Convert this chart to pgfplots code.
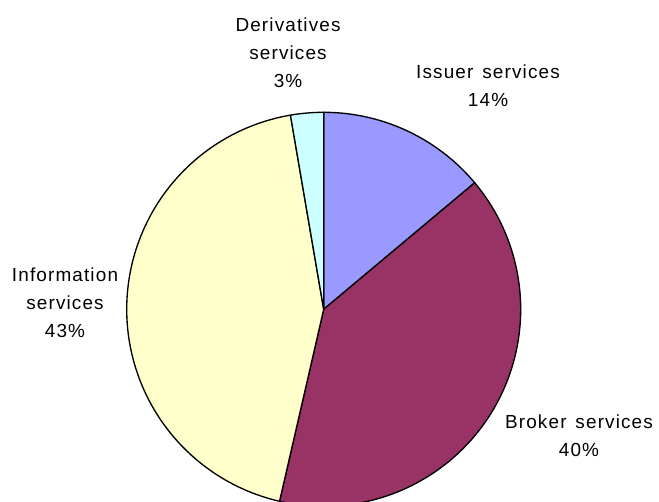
\documentclass[border=0pt]{standalone}
\usepackage{fontspec}
\setmainfont{Liberation Sans}[LetterSpace=6, WordSpace=1.4]
\usepackage{pgfplots}
\pgfplotsset{compat=1.18}
\definecolor{issuer}{HTML}{9999FF}
\definecolor{broker}{HTML}{993366}
\definecolor{info}{HTML}{FFFFCC}
\definecolor{deriv}{HTML}{CCFFFF}
% shares (percent), clockwise from 12 o'clock
\pgfmathsetmacro\pIssuer{13.9}
\pgfmathsetmacro\pBroker{39.7}
\pgfmathsetmacro\pInfo{43.7}
\pgfmathsetmacro\pDeriv{2.7}
\pgfmathsetmacro\aA{90}
\pgfmathsetmacro\aB{\aA-3.6*\pIssuer}
\pgfmathsetmacro\aC{\aB-3.6*\pBroker}
\pgfmathsetmacro\aD{\aC-3.6*\pInfo}
\pgfmathsetmacro\aE{\aD-3.6*\pDeriv}
\def\cx{323.7}
\def\cy{191.7}
\def\rr{197}
\begin{document}
\begin{tikzpicture}
\begin{axis}[hide axis, scale only axis, width=494.25pt, height=375.75pt,
  xmin=0, xmax=659, ymin=0, ymax=501, clip=true]
\addplot[draw=black, line width=1pt, line join=round, fill=issuer, domain=\aA:\aB, samples=80, variable=t]
  ({\cx+\rr*cos(t)},{\cy+\rr*sin(t)}) -- (axis cs:\cx,\cy) -- cycle;
\addplot[draw=black, line width=1pt, line join=round, fill=broker, domain=\aB:\aC, samples=120, variable=t]
  ({\cx+\rr*cos(t)},{\cy+\rr*sin(t)}) -- (axis cs:\cx,\cy) -- cycle;
\addplot[draw=black, line width=1pt, line join=round, fill=info, domain=\aC:\aD, samples=120, variable=t]
  ({\cx+\rr*cos(t)},{\cy+\rr*sin(t)}) -- (axis cs:\cx,\cy) -- cycle;
\addplot[draw=black, line width=1pt, line join=round, fill=deriv, domain=\aD:\aE, samples=20, variable=t]
  ({\cx+\rr*cos(t)},{\cy+\rr*sin(t)}) -- (axis cs:\cx,\cy) -- cycle;
\end{axis}
\begin{axis}[hide axis, scale only axis, width=494.25pt, height=375.75pt,
  xmin=0, xmax=659, ymin=0, ymax=501, clip=false]
\path (axis cs:0,0) rectangle (axis cs:659,501);
\tikzset{lbl/.style={align=center, font=\fontsize{14.2}{21}\selectfont, text=black, inner sep=0pt}}
\node[lbl] at (axis cs:288,448) {Derivatives\\services\\3\%};
\node[lbl] at (axis cs:488,415) {Issuer services\\14\%};
\node[lbl] at (axis cs:65,198) {Information\\services\\43\%};
\node[lbl] at (axis cs:579,65) {Broker services\\40\%};
\end{axis}
\end{tikzpicture}
\end{document}
